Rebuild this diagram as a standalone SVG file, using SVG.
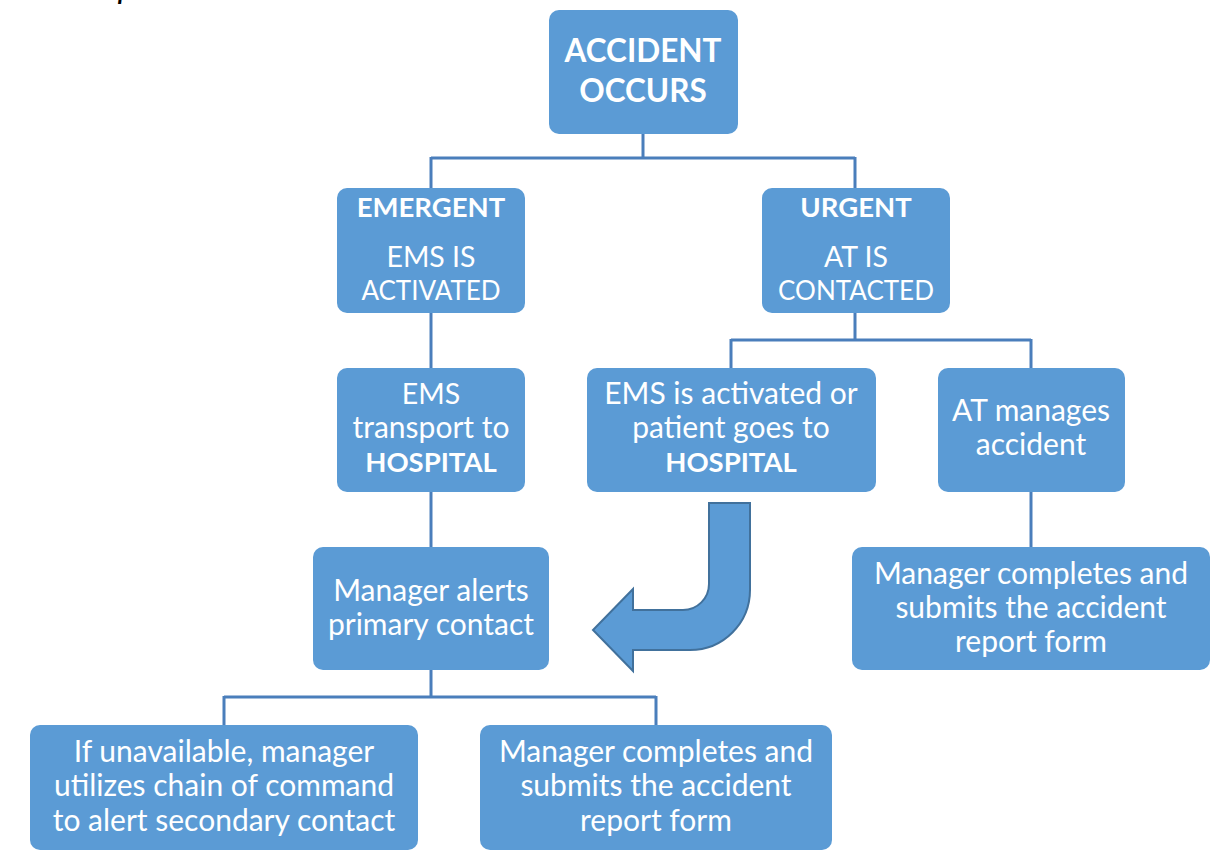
<svg xmlns="http://www.w3.org/2000/svg" width="1228" height="861" viewBox="0 0 1228 861">
<style>
.box{fill:#5B9BD5;}
.t{font-family:Lato,"Open Sans",sans-serif;font-size:30px;fill:#FFFFFF;text-anchor:middle;}
.c{font-size:28.5px;}
.n{font-size:26px;}
.b{font-weight:bold;font-size:27.5px;}
.title{font-family:Lato,"Open Sans",sans-serif;font-size:31.5px;font-weight:bold;fill:#FFFFFF;text-anchor:middle;}
.conn{fill:none;stroke:#4A7EBB;stroke-width:3;}
</style>
<rect width="1228" height="861" fill="#FFFFFF"/>
<text x="8" y="-0.3" font-family="Lato,sans-serif" font-size="25" font-weight="bold" font-style="italic" fill="#000000">EMS Transportation Protocol</text>
<g id="connectors">
<path class="conn" d="M643,133 V158 M431,158 H855 M431,157 V188 M855,157 V188"/>
<path class="conn" d="M431,313 V368"/>
<path class="conn" d="M855,313 V340 M731,340 H1031 M731,339 V368 M1031,339 V368"/>
<path class="conn" d="M1031,492 V547"/>
<path class="conn" d="M431,492 V547"/>
<path class="conn" d="M431,670 V697 M224,697 H656 M224,696 V725 M656,696 V725"/>
</g>
<g id="bent-arrow">
<path d="M709,503 L750,503 L750,590 A60,60 0 0 1 690,650 L633,650 L633,671 L593,630 L633,589 L633,610 L683,610 A26,26 0 0 0 709,584 Z" fill="#5B9BD5" stroke="#41719C" stroke-width="2" stroke-linejoin="miter"/>
</g>
<g id="accident-occurs">
<rect class="box" x="549" y="10" width="189" height="124" rx="10"/>
<text class="title" x="643" y="62">ACCIDENT</text>
<text class="title" x="643" y="102">OCCURS</text>
</g>
<g id="emergent">
<rect class="box" x="337" y="188" width="188" height="125" rx="10"/>
<text class="t b" x="431" y="217">EMERGENT</text>
<text class="t c" x="431" y="267">EMS IS</text>
<text class="t n" x="431" y="300">ACTIVATED</text>
</g>
<g id="urgent">
<rect class="box" x="762" y="188" width="188" height="125" rx="10"/>
<text class="t b" x="856" y="217">URGENT</text>
<text class="t c" x="856" y="267">AT IS</text>
<text class="t n" x="856" y="300">CONTACTED</text>
</g>
<g id="ems-transport">
<rect class="box" x="337" y="368" width="188" height="124" rx="10"/>
<text class="t c" x="431" y="404">EMS</text>
<text class="t" x="431" y="438">transport to</text>
<text class="t b" x="431" y="472">HOSPITAL</text>
</g>
<g id="ems-or-patient">
<rect class="box" x="587" y="368" width="289" height="124" rx="10"/>
<text class="t" x="731" y="404">EMS is activated or</text>
<text class="t" x="731" y="438">patient goes to</text>
<text class="t b" x="731" y="472">HOSPITAL</text>
</g>
<g id="at-manages">
<rect class="box" x="938" y="368" width="187" height="124" rx="10"/>
<text class="t" x="1031" y="421">AT manages</text>
<text class="t" x="1031" y="455">accident</text>
</g>
<g id="manager-report-right">
<rect class="box" x="852" y="547" width="358" height="123" rx="10"/>
<text class="t" x="1031" y="584">Manager completes and</text>
<text class="t" x="1031" y="618">submits the accident</text>
<text class="t" x="1031" y="652">report form</text>
</g>
<g id="manager-alerts">
<rect class="box" x="313" y="547" width="236" height="123" rx="10"/>
<text class="t" x="431" y="601">Manager alerts</text>
<text class="t" x="431" y="635">primary contact</text>
</g>
<g id="chain-of-command">
<rect class="box" x="30" y="725" width="388" height="125" rx="10"/>
<text class="t" x="224" y="762">If unavailable, manager</text>
<text class="t" x="224" y="796">utilizes chain of command</text>
<text class="t" x="224" y="831">to alert secondary contact</text>
</g>
<g id="manager-report-left">
<rect class="box" x="480" y="725" width="352" height="125" rx="10"/>
<text class="t" x="656" y="762">Manager completes and</text>
<text class="t" x="656" y="796">submits the accident</text>
<text class="t" x="656" y="831">report form</text>
</g>
</svg>
